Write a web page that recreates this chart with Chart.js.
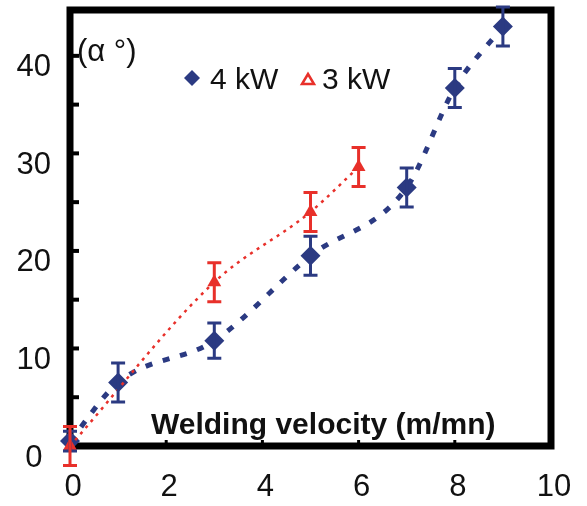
<!DOCTYPE html>
<html>
<head>
<meta charset="utf-8">
<script src="https://cdn.jsdelivr.net/npm/chart.js@4.4.1/dist/chart.umd.min.js"></script>
<style>
  html, body { margin: 0; padding: 0; background: #fff; }
  #chart { display: block; }
</style>
</head>
<body>
<canvas id="chart" width="587" height="506"></canvas>
<script>
// welding velocity (m/mn) vs angle alpha (deg)
const velocity4kW = [0, 1, 3, 5, 7, 8, 9];
const angle4kW = [0.5, 6.5, 10.8, 19.5, 26.5, 36.7, 43];
const error4kW = [1, 2, 1.8, 2, 2, 2, 2];

const velocity3kW = [0, 3, 5, 6];
const angle3kW = [0, 16.8, 24, 28.6];
const error3kW = [2, 2, 2, 2];

const xTickValues = [0, 2, 4, 6, 8, 10];
const yTickValues = [0, 10, 20, 30, 40];
const yMinorTicks = [5, 15, 25, 35];

const BLUE = '#2b3a82';
const RED = '#e8302a';
const FONT = "'Liberation Sans', Arial, sans-serif";

const toPoints = (xs, ys) => xs.map((x, i) => ({ x, y: ys[i] }));

const noPadding = (scale) => {
  scale.paddingTop = 0;
  scale.paddingBottom = 0;
  scale.paddingLeft = 0;
  scale.paddingRight = 0;
};

// frame + inward ticks, drawn under the data
const framePlugin = {
  id: 'frame',
  beforeDatasetsDraw(chart) {
    const { ctx, chartArea: a, scales: { x, y } } = chart;
    ctx.save();
    ctx.strokeStyle = '#000';
    ctx.lineWidth = 7;
    ctx.strokeRect(a.left, a.top, a.right - a.left, a.bottom - a.top);
    ctx.lineWidth = 4;
    [...yTickValues, ...yMinorTicks].forEach(v => {
      if (v === 0) return;
      const py = y.getPixelForValue(v);
      ctx.beginPath();
      ctx.moveTo(a.left, py);
      ctx.lineTo(a.left + 9, py);
      ctx.stroke();
    });
    ctx.lineWidth = 3;
    xTickValues.slice(1, -1).forEach(v => {
      const px = x.getPixelForValue(v);
      ctx.beginPath();
      ctx.moveTo(px, a.bottom);
      ctx.lineTo(px, a.bottom - 6);
      ctx.stroke();
    });
    ctx.restore();
  },
};

// error bars from the per-point error arrays
const errorBarPlugin = {
  id: 'errorBars',
  afterDatasetsDraw(chart) {
    const { ctx, scales: { y } } = chart;
    ctx.save();
    chart.data.datasets.forEach((ds, di) => {
      if (!ds.errors) return;
      const meta = chart.getDatasetMeta(di);
      ctx.strokeStyle = ds.borderColor;
      ctx.lineWidth = 3;
      meta.data.forEach((pt, i) => {
        const v = ds.data[i].y;
        const top = y.getPixelForValue(v + ds.errors[i]);
        const bot = y.getPixelForValue(v - ds.errors[i]);
        ctx.beginPath();
        ctx.moveTo(pt.x, top);
        ctx.lineTo(pt.x, bot);
        ctx.moveTo(pt.x - 7, top);
        ctx.lineTo(pt.x + 7, top);
        ctx.moveTo(pt.x - 7, bot);
        ctx.lineTo(pt.x + 7, bot);
        ctx.stroke();
      });
    });
    ctx.restore();
  },
};

// in-plot texts: unit label, legend, axis title
const annotationPlugin = {
  id: 'annotations',
  afterDraw(chart) {
    const { ctx } = chart;
    ctx.save();
    ctx.fillStyle = '#111';
    ctx.textBaseline = 'middle';
    ctx.textAlign = 'left';

    ctx.font = `31px ${FONT}`;
    ctx.fillText('(\u03b1 \u00b0)', 77, 52);

    ctx.fillStyle = BLUE;
    ctx.beginPath();
    ctx.moveTo(192, 70);
    ctx.lineTo(200, 78);
    ctx.lineTo(192, 86);
    ctx.lineTo(184, 78);
    ctx.closePath();
    ctx.fill();

    ctx.fillStyle = '#111';
    ctx.font = `30px ${FONT}`;
    ctx.fillText('4 kW', 210, 81);

    ctx.strokeStyle = RED;
    ctx.lineWidth = 2.5;
    ctx.beginPath();
    ctx.moveTo(308, 74);
    ctx.lineTo(314, 84);
    ctx.lineTo(302, 84);
    ctx.closePath();
    ctx.stroke();

    ctx.fillText('3 kW', 322, 81);

    ctx.font = `bold 30px ${FONT}`;
    ctx.fillText('Welding velocity (m/mn)', 151, 426);
    ctx.restore();
  },
};

new Chart(document.getElementById('chart'), {
  type: 'scatter',
  data: {
    datasets: [
      {
        label: '4 kW',
        data: toPoints(velocity4kW, angle4kW),
        errors: error4kW,
        order: 2,
        showLine: true,
        borderColor: BLUE,
        backgroundColor: BLUE,
        borderWidth: 5,
        borderDash: [7, 11],
        cubicInterpolationMode: 'monotone',
        pointStyle: 'rectRot',
        pointRadius: 10,
        pointBorderWidth: 0,
        clip: false,
      },
      {
        label: '3 kW',
        data: toPoints(velocity3kW, angle3kW),
        errors: error3kW,
        order: 1,
        showLine: true,
        borderColor: RED,
        backgroundColor: RED,
        borderWidth: 2.5,
        borderDash: [3, 5],
        cubicInterpolationMode: 'monotone',
        pointStyle: 'triangle',
        pointRadius: 8,
        pointBorderWidth: 0,
        clip: false,
      },
    ],
  },
  options: {
    responsive: false,
    animation: false,
    layout: { padding: { top: 10, right: 36, left: 0, bottom: 0 } },
    plugins: {
      legend: { display: false },
      tooltip: { enabled: false },
    },
    scales: {
      x: {
        type: 'linear',
        min: 0,
        max: 10,
        afterFit: (scale) => { scale.height = 60; noPadding(scale); },
        afterBuildTicks: (scale) => { scale.ticks = xTickValues.map(v => ({ value: v })); },
        grid: { display: false, drawTicks: false },
        border: { display: false },
        ticks: {
          color: '#111',
          font: { family: FONT, size: 31 },
          padding: 23,
          labelOffset: 3,
          maxRotation: 0,
        },
      },
      y: {
        type: 'linear',
        min: 0,
        max: 44.7,
        afterFit: (scale) => { scale.width = 70; noPadding(scale); },
        afterBuildTicks: (scale) => { scale.ticks = yTickValues.map(v => ({ value: v })); },
        grid: { display: false, drawTicks: false },
        border: { display: false },
        ticks: {
          color: '#111',
          font: { family: FONT, size: 31 },
          padding: 19,
          crossAlign: 'center',
          labelOffset: 12,
        },
      },
    },
  },
  plugins: [framePlugin, errorBarPlugin, annotationPlugin],
});
</script>
</body>
</html>
